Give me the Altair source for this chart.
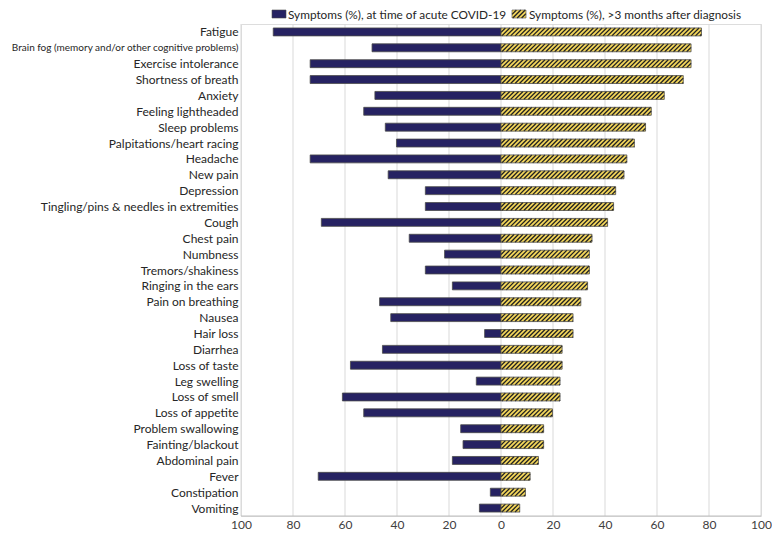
import altair as alt
import pandas as pd
import numpy as np

# ---------------- data ----------------
symptoms = [
    "Fatigue", "Brain fog (memory and/or other cognitive problems)", "Exercise intolerance",
    "Shortness of breath", "Anxiety", "Feeling lightheaded", "Sleep problems",
    "Palpitations/heart racing", "Headache", "New pain", "Depression",
    "Tingling/pins & needles in extremities", "Cough", "Chest pain", "Numbness",
    "Tremors/shakiness", "Ringing in the ears", "Pain on breathing", "Nausea", "Hair loss",
    "Diarrhea", "Loss of taste", "Leg swelling", "Loss of smell", "Loss of appetite",
    "Problem swallowing", "Fainting/blackout", "Abdominal pain", "Fever", "Constipation",
    "Vomiting",
]
acute = [87.6, 49.6, 73.4, 73.4, 48.5, 52.8, 44.5, 40.2, 73.4, 43.4, 29.1, 29.1, 69.1, 35.3,
         21.7, 29.1, 18.7, 46.7, 42.4, 6.3, 45.6, 57.9, 9.5, 61.0, 52.8, 15.5, 14.6, 18.7,
         70.3, 4.1, 8.3]
later = [77.1, 73.1, 73.1, 70.1, 62.8, 57.8, 55.6, 51.3, 48.4, 47.3, 44.1, 43.3, 41.0, 35.0,
         34.0, 34.0, 33.3, 30.7, 27.7, 27.7, 23.5, 23.5, 22.7, 22.7, 19.8, 16.4, 16.4, 14.4,
         11.2, 9.4, 7.2]
series_names = ["Symptoms (%), at time of acute COVID-19",
                "Symptoms (%), >3 months after diagnosis"]
x_ticks = [-100, -80, -60, -40, -20, 0, 20, 40, 60, 80, 100]

# ---------------- layout / style ----------------
W, H = 520, 492
PAD = {"left": 233, "top": 16, "right": 11, "bottom": 15}
NAVY = "#262262"
YELLOW = "#F3D65B"
EDGE = "#4a4a4a"
STRIPE = "#202020"
FONT = "Lato"
hb = 0.25  # half bar thickness in category units
STEP_PX = 4.4
STRIPE_W = 1.3

n = len(symptoms)
idx = list(range(n))

df_acute = pd.DataFrame({"x": [-v for v in acute], "x2": [0] * n,
                         "y": [i - hb for i in idx], "y2": [i + hb for i in idx]})
df_later = pd.DataFrame({"x": [0] * n, "x2": later,
                         "y": [i - hb for i in idx], "y2": [i + hb for i in idx]})
df_grid = pd.DataFrame({"x": x_ticks})

# hatch lines ("/") inside the long-COVID bars, built from the values in data units
px_per_unit = W / 200.0
band_px = H / n
bar_px = 2 * hb * band_px
d = bar_px / px_per_unit          # horizontal run of one stripe (45 deg)
s = STEP_PX / px_per_unit         # stripe spacing
rows = []
for i, v in zip(idx, later):
    x0 = -d
    while x0 < v:
        t_lo = max(0.0, (0 - x0) / d)
        t_hi = min(1.0, (v - x0) / d)
        if t_lo < t_hi:
            rows.append({"x": x0 + t_lo * d, "x2": x0 + t_hi * d,
                         "y": i + hb - t_lo * 2 * hb, "y2": i + hb - t_hi * 2 * hb})
        x0 += s
df_hatch = pd.DataFrame(rows)

label_arr = "[" + ",".join('"' + t + '"' for t in symptoms) + "]"

xscale = alt.Scale(domain=[-100, 100], nice=False, zero=False)
yscale = alt.Scale(domain=[-0.5, n - 0.5], nice=False, zero=False, reverse=True)

xaxis = alt.Axis(values=x_ticks, labelExpr="abs(datum.value)", grid=False,
                 ticks=False, domain=False, labelFont=FONT,
                 labelFontSize=12, labelColor="#404040", labelPadding=3, title=None,
                 labelFlush=False)
yaxis = alt.Axis(values=idx, labelExpr=label_arr + "[datum.value]", grid=False, ticks=False,
                 domain=False, labelFont=FONT, labelLimit=300,
                 labelFontSize={"condition": {"test": "datum.value == 1", "value": 10},
                                "value": 12},
                 labelColor="#262626", labelPadding=3, title=None)

X = alt.X("x:Q", scale=xscale, axis=xaxis)
X2 = alt.X2("x2:Q")
Y = alt.Y("y:Q", scale=yscale, axis=yaxis)
Y2 = alt.Y2("y2:Q")

grid = alt.Chart(df_grid).mark_rule(color="#d9d9d9", strokeWidth=1).encode(
    x=X, y=alt.value(0), y2=alt.value(H))
baseline = alt.Chart(pd.DataFrame({"a": [0]})).mark_rule(color="#bfbfbf", strokeWidth=1).encode(
    x=alt.value(0), x2=alt.value(W), y=alt.value(H))
acute_bars = alt.Chart(df_acute).mark_rect(fill=NAVY, stroke=EDGE, strokeWidth=0.8).encode(
    x=X, x2=X2, y=Y, y2=Y2)
later_fill = alt.Chart(df_later).mark_rect(fill=YELLOW).encode(x=X, x2=X2, y=Y, y2=Y2)
hatch = alt.Chart(df_hatch).mark_rule(color=STRIPE, strokeWidth=STRIPE_W).encode(
    x=X, x2=X2, y=Y, y2=Y2)
later_edge = alt.Chart(df_later).mark_rect(fill="transparent", stroke=EDGE,
                                           strokeWidth=0.8).encode(x=X, x2=X2, y=Y, y2=Y2)

# ---------------- manual legend (pixel positions relative to plot area) ----------------
one = pd.DataFrame({"a": [0]})
leg_y0, leg_y1 = -14, -6
L1, L2 = 31, 271
sw1 = alt.Chart(one).mark_rect(fill=NAVY, stroke=EDGE, strokeWidth=0.6).encode(
    x=alt.value(L1), x2=alt.value(L1 + 14), y=alt.value(leg_y0), y2=alt.value(leg_y1))
sw2 = alt.Chart(one).mark_rect(fill=YELLOW).encode(
    x=alt.value(L2), x2=alt.value(L2 + 14), y=alt.value(leg_y0), y2=alt.value(leg_y1))
leg_layers = [sw1, sw2]
hgt = leg_y1 - leg_y0
x0 = L2 - hgt
while x0 < L2 + 14:
    t_lo = max(0.0, (L2 - x0) / hgt)
    t_hi = min(1.0, (L2 + 14 - x0) / hgt)
    if t_lo < t_hi:
        leg_layers.append(alt.Chart(one).mark_rule(color=STRIPE, strokeWidth=STRIPE_W).encode(
            x=alt.value(x0 + t_lo * hgt), x2=alt.value(x0 + t_hi * hgt),
            y=alt.value(leg_y1 - t_lo * hgt), y2=alt.value(leg_y1 - t_hi * hgt)))
    x0 += STEP_PX
leg_layers.append(alt.Chart(one).mark_rect(fill="transparent", stroke=EDGE, strokeWidth=0.6).encode(
    x=alt.value(L2), x2=alt.value(L2 + 14), y=alt.value(leg_y0), y2=alt.value(leg_y1)))
for xx, txt in [(L1 + 16, series_names[0]), (L2 + 17, series_names[1])]:
    leg_layers.append(alt.Chart(one).mark_text(align="left", baseline="middle", font=FONT,
                                               fontSize=11.8, color="#262626").encode(
        x=alt.value(xx), y=alt.value((leg_y0 + leg_y1) / 2 + 0.5), text=alt.value(txt)))

chart = alt.layer(grid, baseline, acute_bars, later_fill, hatch, later_edge,
                  *leg_layers).properties(
    width=W, height=H,
    autosize=alt.AutoSizeParams(type="none"),
    padding=PAD,
).configure_view(stroke=None).configure(background="white")

chart.save("out.html", embed_options={"renderer": "svg", "actions": False})
